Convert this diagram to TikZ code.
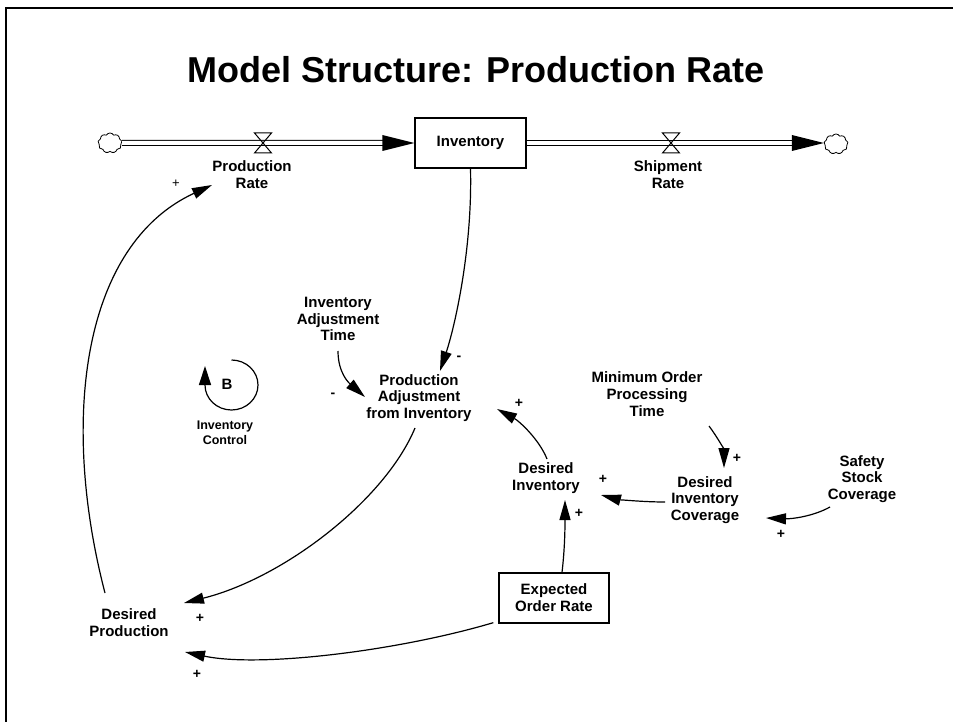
\documentclass[tikz,border=0pt]{standalone}
\usepackage{fontspec}
\setmainfont{Liberation Sans}
\usetikzlibrary{arrows.meta,shapes.symbols,calc}
\begin{document}
\begin{tikzpicture}[x=1pt,y=-1pt,
  lbl/.style={font=\fontsize{15}{16.8}\selectfont\bfseries, align=center, inner sep=0pt},
  smalllbl/.style={font=\fontsize{12.5}{15}\selectfont\bfseries, align=center, inner sep=0pt},
  sgn/.style={font=\fontsize{14}{14}\selectfont\bfseries, inner sep=0pt},
  thinsgn/.style={font=\fontsize{13}{13}\selectfont, inner sep=0pt},
  lnk/.style={line width=1.2pt, -{Triangle[length=20pt,width=11pt]}},
  stockbox/.style={draw, line width=1.3pt, minimum width=111pt, minimum height=50pt, inner sep=0pt, lbl},
  auxbox/.style={draw, line width=1.3pt, minimum width=110pt, minimum height=50pt, inner sep=0pt, lbl},
  pipe/.style={double distance=4pt, line width=1pt},
  flowtip/.style={fill=black},
  valveshape/.style={draw, line width=1pt},
  sourcecloud/.style={cloud, cloud puffs=9, cloud puff arc=120, aspect=1.2, draw, line width=0.8pt, minimum width=24pt, minimum height=20pt, inner sep=0pt},
  frameline/.style={line width=2.5pt}
]
\useasboundingbox (0,0) rectangle (953,722);
\draw[frameline] (6,722) -- (6,8) -- (953,8);

\node[font=\fontsize{36}{36}\selectfont\bfseries, inner sep=0pt] (title) at (476,70) {Model Structure: Production Rate};

% stock and flows
\node[stockbox] (inv) at (470.5,143) {Inventory};
\node[sourcecloud] (cL) at (110,143) {};
\node[sourcecloud] (cR) at (836,144) {};
\coordinate (v1) at (263,143);
\coordinate (v2) at (671,143);
\draw[pipe] (cL.east) -- ($(inv.west)+(-30,0)$);
\fill[flowtip] (inv.west) -- ++(-32,-8) -- ++(0,16) -- cycle;
\draw[pipe] (inv.east) -- ($(cR.west |- inv.east)+(-30,0)$);
\fill[flowtip] (cR.west |- inv.east) -- ++(-32,-8) -- ++(0,16) -- cycle;
\draw[valveshape] ($(v1)+(-8.5,-10)$) -- ($(v1)+(8.5,-10)$) -- ($(v1)+(-8.5,10)$) -- ($(v1)+(8.5,10)$) -- cycle;
\draw[valveshape] ($(v2)+(-8.5,-10)$) -- ($(v2)+(8.5,-10)$) -- ($(v2)+(-8.5,10)$) -- ($(v2)+(8.5,10)$) -- cycle;
\node[lbl] (pr) at (252,175) {Production\\Rate};
\node[lbl] (sr) at (668,175) {Shipment\\Rate};

% auxiliaries
\node[lbl] (iat) at (338,319) {Inventory\\Adjustment\\Time};
\node[lbl] (pai) at (419,398) {Production\\Adjustment\\from Inventory};
\node[lbl] (mopt) at (647,394) {Minimum Order\\Processing\\Time};
\node[lbl] (dic) at (705,500) {Desired\\Inventory\\Coverage};
\node[lbl] (ssc) at (862,479) {Safety\\Stock\\Coverage};
\node[lbl] (di) at (546,478) {Desired\\Inventory};
\node[auxbox] (eor) at (554,598) {Expected\\Order Rate};
\node[lbl] (dp) at (129,623) {Desired\\Production};

% loop
\node[lbl] (bl) at (227,384) {B};
\node[smalllbl] (lc) at (225,433) {Inventory\\Control};
\draw[lnk, -{Triangle[length=19pt,width=12pt]}] (231.5,360) arc[start angle=-90, end angle=180, x radius=26.5, y radius=25] -- (205,366);

% links
\draw[lnk] ($(dp)+(-24,-30)$) .. controls +(-45,-173) and +(-130,60) .. ($(pr)+(-40,10)$);
\draw[lnk] (inv.south) .. controls +(2,80) and +(15,-45) .. ($(pai)+(21,-27)$);
\draw[lnk] ($(iat)+(0,32)$) .. controls +(0,22) and +(-16,-14) .. ($(pai)+(-54,-1)$);
\draw[lnk] ($(pai)+(-4,30)$) .. controls +(-30,72) and +(100,-25) .. ($(dp)+(55,-20)$);
\draw[lnk] ($(eor.south west)+(-5,-1)$) .. controls +(-94,28) and +(75,16) .. ($(dp)+(56,29)$);
\draw[lnk] ($(eor.north)+(8,0)$) .. controls +(3,-25) and +(0,25) .. ($(di)+(19,22)$);
\draw[lnk] ($(di)+(1,-19)$) .. controls +(-8,-20) and +(22,12) .. ($(pai)+(78,11)$);
\draw[lnk] ($(dic)+(-40,2)$) .. controls +(-25,0) and +(15,4) .. ($(di)+(55,17)$);
\draw[lnk] ($(mopt)+(62,32)$) .. controls +(9,12) and +(0,-18) .. ($(dic)+(19,-32)$);
\draw[lnk] ($(ssc)+(-32,28)$) .. controls +(-18,10) and +(24,1) .. ($(dic)+(61,18)$);

% polarity signs
\node[thinsgn] (s1) at (176,184) {+};
\node[sgn] (s2) at (459,358) {-};
\node[sgn] (s3) at (333,395) {-};
\node[sgn] (s4) at (519,403) {+};
\node[sgn] (s5) at (603,479) {+};
\node[sgn] (s6) at (579,513) {+};
\node[sgn] (s7) at (737,458) {+};
\node[sgn] (s8) at (781,534) {+};
\node[sgn] (s9) at (200,618) {+};
\node[sgn] (s10) at (197,674) {+};
\end{tikzpicture}
\end{document}
